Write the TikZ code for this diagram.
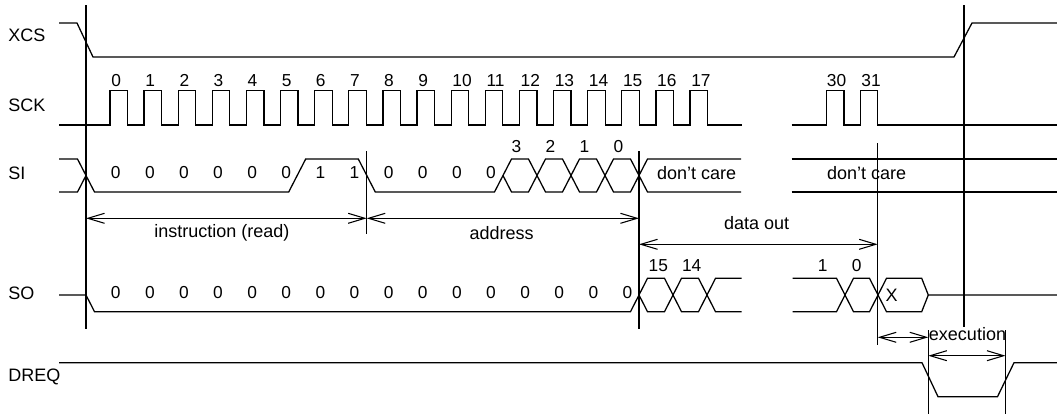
\documentclass[tikz,border=0pt]{standalone}
\usepackage{fontspec}
\setmainfont{Liberation Sans}
\usetikzlibrary{arrows.meta}
\tikzset{
  sig/.style={line width=0.95pt, line join=miter},
  vline/.style={line width=0.8pt},
  dim/.style={line width=0.8pt, {Straight Barb[length=12.5pt,width=7.5pt]}-{Straight Barb[length=12.5pt,width=7.5pt]}},
  lab/.style={inner sep=0pt, font=\fontsize{13.5pt}{16pt}\selectfont},
  num/.style={inner sep=0pt, font=\fontsize{13pt}{15pt}\selectfont},
}
\begin{document}
\begin{tikzpicture}[x=0.75pt,y=-0.75pt]
\useasboundingbox (0,0) rectangle (1057,414);

% signal names
\node[lab,anchor=west] (nXCS) at (8,35) {XCS};
\node[lab,anchor=west] (nSCK) at (8,105) {SCK};
\node[lab,anchor=west] (nSI) at (8,173) {SI};
\node[lab,anchor=west] (nSO) at (8,293) {SO};
\node[lab,anchor=west] (nDREQ) at (8,377) {DREQ};

% vertical marker lines
\coordinate (vA1) at (86,5);     \coordinate (vA2) at (86,329);
\coordinate (vB1) at (366.7,151);\coordinate (vB2) at (366.7,234);
\coordinate (vC1) at (639,151);  \coordinate (vC2) at (639,329);
\coordinate (vD1) at (877.7,143);\coordinate (vD2) at (877.7,345);
\coordinate (vE1) at (964,5);    \coordinate (vE2) at (964,327);
\coordinate (vF1) at (928.3,330);\coordinate (vF2) at (928.3,414);
\coordinate (vG1) at (1005.5,330);\coordinate (vG2) at (1005.5,414);
\foreach \a/\b in {vA1/vA2,vB1/vB2,vC1/vC2,vD1/vD2,vE1/vE2,vF1/vF2,vG1/vG2}
  \draw[vline] (\a) -- (\b);

% XCS
\draw[sig] (59,23) -- (77,23) -- (93,57) -- (954,57) -- (972,23) -- (1057,23);

% SCK
\draw[sig] (59,125)
  \foreach \k in {0,...,17}{ -- ({110+34.12*\k},125) -- ({110+34.12*\k},90.7)
     -- ({127.5+34.12*\k},90.7) -- ({127.5+34.12*\k},125)} -- (741.7,125);
\foreach \k in {0,...,17}
  \node[num,anchor=west] (ck\k) at ({111+34.12*\k},80.5) {\k};
\draw[sig] (791.7,125) -- (826.7,125) -- (826.7,90.7) -- (844,90.7) -- (844,125)
  -- (860.7,125) -- (860.7,90.7) -- (877.7,90.7) -- (877.7,125) -- (1057,125);
\node[num,anchor=west] (ck30) at (826.7,80.5) {30};
\node[num,anchor=west] (ck31) at (861.2,80.5) {31};

% SI
\draw[sig] (59,159) -- (77.5,159) -- (94.5,192) -- (288.7,192) -- (305.7,159)
  -- (358.3,159) -- (375.3,192) -- (494.5,192) -- (511.5,159) -- (528.5,159)
  -- (545.5,192) -- (562.5,192) -- (579.5,159) -- (596.5,159) -- (613.5,192)
  -- (630.5,192) -- (647.5,159) -- (741,159);
\draw[sig] (59,192) -- (77.5,192) -- (86,175.5);
\draw[sig] (503,175.5) -- (511.5,192) -- (528.5,192) -- (545.5,159) -- (562.5,159)
  -- (579.5,192) -- (596.5,192) -- (613.5,159) -- (630.5,159) -- (647.5,192) -- (741,192);
\draw[sig] (791.7,159) -- (1057,159);
\draw[sig] (791.7,192) -- (1057,192);
\foreach \i/\v in {0/0,1/0,2/0,3/0,4/0,5/0,6/1,7/1,8/0,9/0,10/0,11/0}
  \node[num] (si\i) at ({115.7+34.12*\i},173) {\v};
\foreach \i/\v/\x in {a/3/516.5,b/2/550.5,c/1/584.5,d/0/618.5}
  \node[num] (sa\i) at (\x,146.5) {\v};
\node[lab] (dc1) at (696.7,173) {don’t care};
\node[lab] (dc2) at (866.7,173) {don’t care};

% dimension arrows
\coordinate (iL) at (86,218.3); \coordinate (iR) at (366.7,218.3);
\coordinate (aR) at (639,218.3);
\coordinate (dL) at (639,244.3); \coordinate (dR) at (877.7,244.3);
\coordinate (eL) at (877.7,337.3); \coordinate (eR) at (928.3,337.3);
\coordinate (fL) at (928.3,355.7); \coordinate (fR) at (1005.5,355.7);
\draw[dim] (iL) -- (iR);
\draw[dim] (iR) -- (aR);
\draw[dim] (dL) -- (dR);
\draw[dim] (eL) -- (eR);
\draw[dim] (fL) -- (fR);
\node[lab] (tinst) at (222,233.3) {instruction (read)};
\node[lab] (taddr) at (501.7,233) {address};
\node[lab] (tdata) at (756.7,223.3) {data out};
\node[lab] (texec) at (967.5,334) {execution};

% SO
\draw[sig] (59,295) -- (86,295) -- (94.5,311.7) -- (630.5,311.7) -- (647.5,278.3)
  -- (664.5,278.3) -- (681.5,311.7) -- (698.5,311.7) -- (715.5,278.3) -- (741.7,278.3);
\draw[sig] (639,295) -- (647.5,311.7) -- (664.5,311.7) -- (681.5,278.3)
  -- (698.5,278.3) -- (715.5,311.7) -- (741.7,311.7);
\draw[sig] (792.7,278.3) -- (836.5,278.3) -- (853.5,311.7) -- (869.5,311.7)
  -- (886.5,278.3) -- (921.7,278.3) -- (928.3,295) -- (1057,295);
\draw[sig] (792.7,311.7) -- (836.5,311.7) -- (853.5,278.3) -- (869.5,278.3)
  -- (886.5,311.7) -- (921.7,311.7) -- (928.3,295);
\foreach \i in {0,...,15}
  \node[num] (so\i) at ({115.7+34.12*\i},292.7) {0};
\node[num] (so15b) at (658.3,265.5) {15};
\node[num] (so14b) at (691.7,265.5) {14};
\node[num] (so1b) at (822.7,265.5) {1};
\node[num] (so0b) at (856.7,265.5) {0};
\node[lab] (soX) at (891.7,295) {X};

% DREQ
\draw[sig] (59,362.7) -- (922,362.7) -- (938,396.7) -- (997.5,396.7) -- (1014,362.7) -- (1057,362.7);
\end{tikzpicture}
\end{document}
